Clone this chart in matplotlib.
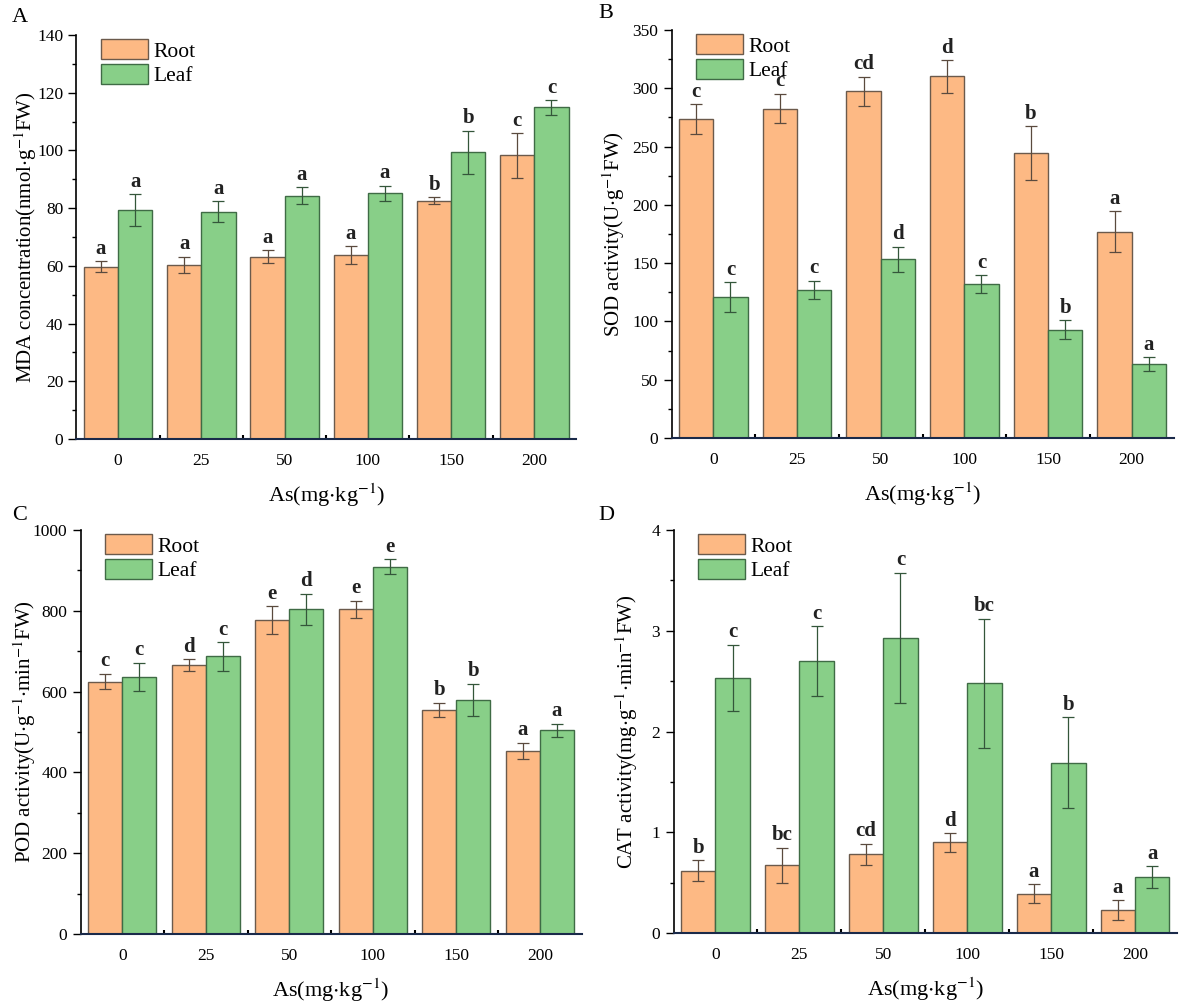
import numpy as np
import matplotlib.pyplot as plt
from matplotlib.ticker import MultipleLocator, FixedLocator

plt.rcParams['font.family'] = ['Liberation Serif', 'DejaVu Serif']
plt.rcParams['mathtext.fontset'] = 'stix'

doses = ['0', '25', '50', '100', '150', '200']

mda_root = [59.7, 60.3, 63.2, 63.8, 82.6, 98.3]
mda_root_err = [2.0, 2.8, 2.2, 3.0, 1.2, 7.7]
mda_leaf = [79.4, 78.8, 84.3, 85.1, 99.4, 114.9]
mda_leaf_err = [5.5, 3.6, 2.9, 2.7, 7.5, 2.6]
mda_root_sig = ['a', 'a', 'a', 'a', 'b', 'c']
mda_leaf_sig = ['a', 'a', 'a', 'a', 'b', 'c']

sod_root = [273.7, 282.6, 297.4, 310.3, 244.6, 177.1]
sod_root_err = [12.6, 12.6, 12.6, 14.0, 23.0, 17.5]
sod_leaf = [120.9, 127.1, 153.4, 132.0, 92.9, 63.4]
sod_leaf_err = [12.9, 7.7, 10.6, 7.7, 8.0, 6.0]
sod_root_sig = ['c', 'c', 'cd', 'd', 'b', 'a']
sod_leaf_sig = ['c', 'c', 'd', 'c', 'b', 'a']

pod_root = [625, 665, 777, 804, 555, 453]
pod_root_err = [19, 15, 35, 21, 18, 21]
pod_leaf = [636, 687, 804, 909, 579, 504]
pod_leaf_err = [35, 35, 38, 18, 40, 17]
pod_root_sig = ['c', 'd', 'e', 'e', 'b', 'a']
pod_leaf_sig = ['c', 'c', 'd', 'e', 'b', 'a']

cat_root = [0.62, 0.67, 0.78, 0.90, 0.39, 0.225]
cat_root_err = [0.10, 0.175, 0.106, 0.093, 0.093, 0.10]
cat_leaf = [2.53, 2.70, 2.93, 2.48, 1.69, 0.555]
cat_leaf_err = [0.33, 0.344, 0.645, 0.64, 0.453, 0.106]
cat_root_sig = ['b', 'bc', 'cd', 'd', 'a', 'a']
cat_leaf_sig = ['c', 'c', 'c', 'bc', 'b', 'a']

root_color = '#FDB984'
leaf_color = '#88CF88'
root_edge = '#6b5a4c'
leaf_edge = '#3f6b45'

W, H = 1187, 1006


def rect(left, right, top, bottom):
    return [left / W, 1 - bottom / H, (right - left) / W, (bottom - top) / H]


# label, axes rect, data..., ymax, major, minor, ylabel, ylabel x (axes), panel letter px
panels = [
    ('A', rect(76.5, 576, 35, 439), mda_root, mda_root_err, mda_leaf, mda_leaf_err,
     mda_root_sig, mda_leaf_sig, 140, 20, 10,
     r'MDA concentration(nmol$\cdot$g$^{-1}$FW)', -0.075, (12, 18)),
    ('B', rect(671.5, 1173.5, 30, 438), sod_root, sod_root_err, sod_leaf, sod_leaf_err,
     sod_root_sig, sod_leaf_sig, 350, 50, 25,
     r'SOD activity(U$\cdot$g$^{-1}$FW)', -0.088, (598, 14)),
    ('C', rect(80.5, 581.5, 530, 934), pod_root, pod_root_err, pod_leaf, pod_leaf_err,
     pod_root_sig, pod_leaf_sig, 1000, 200, 100,
     r'POD activity(U$\cdot$g$^{-1}$$\cdot$min$^{-1}$FW)', -0.085, (12, 516)),
    ('D', rect(673.5, 1177, 530, 933), cat_root, cat_root_err, cat_leaf, cat_leaf_err,
     cat_root_sig, cat_leaf_sig, 4, 1, 0.5,
     r'CAT activity(mg$\cdot$g$^{-1}$$\cdot$min$^{-1}$FW)', -0.066, (598, 516)),
]

fig = plt.figure(figsize=(W / 100, H / 100), dpi=100)
x = np.arange(len(doses))
w = 0.41

for (label, r_ax, r, re, l, le, rs, ls, ymax, major, minor, ylabel, ylx, lpos) in panels:
    ax = fig.add_axes(r_ax)
    ax.bar(x - w / 2, r, w, color=root_color, edgecolor=root_edge, linewidth=1.0,
           yerr=re, error_kw=dict(ecolor='#5a4a3e', elinewidth=0.9, capsize=4, capthick=0.9),
           label='Root', zorder=2)
    ax.bar(x + w / 2, l, w, color=leaf_color, edgecolor=leaf_edge, linewidth=1.0,
           yerr=le, error_kw=dict(ecolor='#34563a', elinewidth=0.9, capsize=4, capthick=0.9),
           label='Leaf', zorder=2)
    pad = ymax * 0.006
    for i in range(len(doses)):
        ax.text(x[i] - w / 2, r[i] + re[i] + pad, rs[i], ha='center', va='bottom',
                fontsize=15, fontweight='bold', color='#222222')
        ax.text(x[i] + w / 2, l[i] + le[i] + pad, ls[i], ha='center', va='bottom',
                fontsize=15, fontweight='bold', color='#222222')

    ax.set_xlim(-0.5, len(doses) - 0.5)
    ax.set_ylim(0, ymax)
    ax.set_xticks(x)
    ax.set_xticklabels(doses)
    ax.xaxis.set_minor_locator(FixedLocator(np.arange(0.5, len(doses) - 0.5, 1)))
    ax.tick_params(axis='x', which='major', length=0, pad=10, labelsize=12.5)
    ax.tick_params(axis='x', which='minor', length=3, direction='in', width=1.5)
    ax.yaxis.set_major_locator(MultipleLocator(major))
    ax.yaxis.set_minor_locator(MultipleLocator(minor))
    ax.tick_params(axis='y', which='major', length=6, width=1.0, direction='out', labelsize=12.5)
    ax.tick_params(axis='y', which='minor', length=3, width=1.0, direction='out')
    ax.spines['top'].set_visible(False)
    ax.spines['right'].set_visible(False)
    ax.spines['left'].set_linewidth(1.2)
    ax.spines['bottom'].set_linewidth(1.5)
    ax.spines['bottom'].set_color('#1a2a4a')

    ax.set_xlabel(r'As(mg$\cdot$kg$^{-1}$)', fontsize=16, labelpad=9)
    ax.set_ylabel(ylabel, fontsize=15)
    ax.yaxis.set_label_coords(ylx, 0.5)

    ax.legend(loc='upper left', bbox_to_anchor=(0.04, 1.0), frameon=False, fontsize=15.5,
              handlelength=2.2, handleheight=1.05, handletextpad=0.25, labelspacing=0.1,
              borderaxespad=0.1, borderpad=0.1)
    fig.text(lpos[0] / W, 1 - lpos[1] / H, label, fontsize=16, ha='left', va='center')

fig.savefig('out.png', dpi=100)
